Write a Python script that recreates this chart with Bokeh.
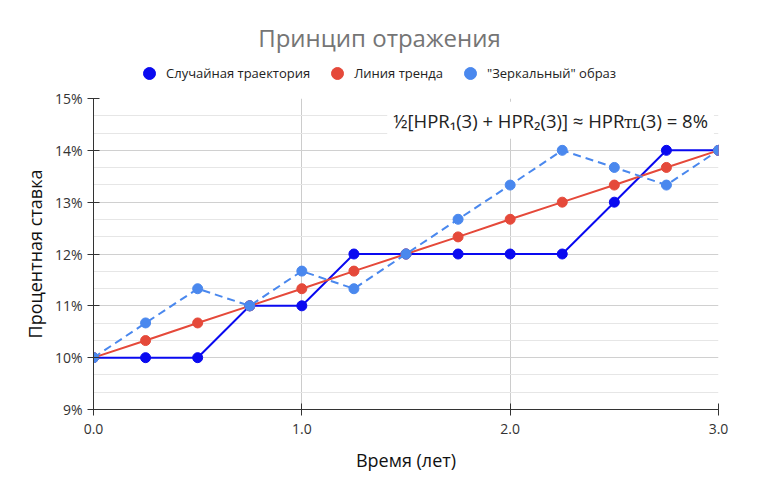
from bokeh.plotting import figure
from bokeh.layouts import column
from bokeh.models import (Legend, LegendItem, Label, PrintfTickFormatter,
                          FixedTicker, ColumnDataSource)
from bokeh.embed import file_html
from bokeh.resources import INLINE

FONT = "Open Sans"

years = [0.0, 0.25, 0.5, 0.75, 1.0, 1.25, 1.5, 1.75, 2.0, 2.25, 2.5, 2.75, 3.0]
random_path = [10, 10, 10, 11, 11, 12, 12, 12, 12, 12, 13, 14, 14]
trend_line = [10.0, 10.33, 10.67, 11.0, 11.33, 11.67, 12.0, 12.33, 12.67, 13.0, 13.33, 13.67, 14.0]
mirror_path = [10.0, 10.67, 11.33, 11.0, 11.67, 11.33, 12.0, 12.67, 13.33, 14.0, 13.67, 13.33, 14.0]

series_names = ["Случайная траектория", "Линия тренда", "\"Зеркальный\" образ"]
x_ticks = [0, 1, 2, 3]
y_ticks = [9, 10, 11, 12, 13, 14, 15]
title_text = "Принцип отражения"
formula_text = "½[HPR₁(3) + HPR₂(3)] ≈ HPRᴛʟ(3) = 8%"

c_blue = "#0a0af0"
c_red = "#e5493a"
c_light = "#4a88ee"
colors = [c_blue, c_red, c_light]

src = ColumnDataSource(dict(x=years, a=random_path, b=trend_line, c=mirror_path))

LEFT, RIGHT = 93, 40
FRAME_W = 758 - LEFT - RIGHT

# ---------- header: title + legend ----------
HEAD_H = 88
head = figure(width=758, height=HEAD_H, output_backend="svg", toolbar_location=None,
              x_range=(-1, -0.5), y_range=(-1, -0.5), min_border=0,
              min_border_left=LEFT, min_border_right=RIGHT,
              x_axis_location=None, y_axis_location=None)
head.grid.visible = False
head.outline_line_color = None

head.add_layout(Label(x=379 - LEFT, y=HEAD_H - 37, x_units="screen", y_units="screen",
                      text=title_text, text_font=FONT, text_font_size="24px",
                      text_color="#757575", text_align="center", text_baseline="middle"))

# legend swatches (series data lie outside this header's ranges, so only the legend shows)
swatches = [head.scatter("x", col, source=src, size=12, fill_color=c, line_color=c)
            for col, c in zip(["a", "b", "c"], colors)]
legend = Legend(items=[LegendItem(label=n, renderers=[r]) for n, r in zip(series_names, swatches)],
                orientation="horizontal", location=(134 - LEFT, 0),
                label_text_font=FONT, label_text_font_size="13px", label_text_color="#222222",
                border_line_color=None, background_fill_alpha=0,
                glyph_width=30, glyph_height=30, spacing=12, padding=0, margin=0,
                label_standoff=2)
head.add_layout(legend)

# ---------- main chart ----------
p = figure(width=758, height=484 - HEAD_H, output_backend="svg", toolbar_location=None,
           x_range=(0, 3), y_range=(9, 15),
           min_border_left=LEFT, min_border_right=RIGHT, min_border_top=98 - HEAD_H,
           min_border_bottom=75)
p.outline_line_color = None
p.background_fill_color = "white"

p.line("x", "a", source=src, line_color=c_blue, line_width=2)
p.scatter("x", "a", source=src, size=10, fill_color=c_blue, line_color=c_blue)
p.line("x", "b", source=src, line_color=c_red, line_width=2)
p.scatter("x", "b", source=src, size=10, fill_color=c_red, line_color=c_red)
p.line("x", "c", source=src, line_color=c_light, line_width=2, line_dash="8 5")
p.scatter("x", "c", source=src, size=10, fill_color=c_light, line_color=c_light)

for ax in (p.xaxis[0], p.yaxis[0]):
    ax.axis_line_color = "#333333"
    ax.major_tick_line_color = "#333333"
    ax.major_tick_in = 6
    ax.major_tick_out = 6
    ax.minor_tick_line_color = None
    ax.major_label_text_font = FONT
    ax.major_label_text_font_size = "14px"
    ax.major_label_text_color = "#333333"
    ax.axis_label_text_font = FONT
    ax.axis_label_text_font_size = "18px"
    ax.axis_label_text_font_style = "normal"
    ax.axis_label_text_color = "#111111"

p.xaxis.ticker = FixedTicker(ticks=x_ticks)
p.xaxis.formatter = PrintfTickFormatter(format="%.1f")
p.xaxis.axis_label = "Время (лет)"
p.xaxis.major_label_standoff = 8
p.xaxis.axis_label_standoff = 11

p.yaxis.ticker = FixedTicker(ticks=y_ticks,
                             minor_ticks=[v + f for v in y_ticks[:-1] for f in (1/3, 2/3)])
p.yaxis.formatter = PrintfTickFormatter(format="%d%%")
p.yaxis.axis_label = "Процентная ставка"

p.xgrid.ticker = FixedTicker(ticks=x_ticks)
p.xgrid.grid_line_color = "#cccccc"
p.ygrid.grid_line_color = "#d0d0d0"
p.ygrid.minor_grid_line_color = "#e6e6e6"

p.add_layout(Label(x=1.41, y=14.58, text=formula_text,
                   text_font=FONT, text_font_size="18.5px", text_color="#222222",
                   text_baseline="middle", background_fill_color="white",
                   background_fill_alpha=1.0, padding=6))

layout = column(head, p, spacing=0)
open("out.html", "w").write(file_html(layout, INLINE))
